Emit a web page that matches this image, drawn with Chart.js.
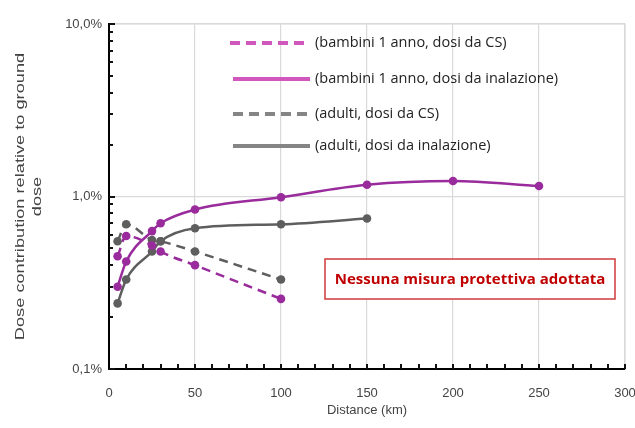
<!DOCTYPE html>
<html>
<head>
<meta charset="utf-8">
<script src="https://cdn.jsdelivr.net/npm/chart.js@4.4.0/dist/chart.umd.min.js"></script>
<style>
  html, body { margin: 0; padding: 0; background: #fff; }
  #wrap { width: 635px; height: 428px; }
</style>
</head>
<body>
<div id="wrap"><canvas id="chart" width="635" height="428"></canvas></div>
<script>
"use strict";

// distances (km)
const kmChildInh = [5, 10, 25, 30, 50, 100, 150, 200, 250];
const kmAdultInh = [5, 10, 25, 30, 50, 100, 150];
const kmCs = [5, 10, 25, 30, 50, 100];

// dose contribution (% of ground dose)
const childCs = [0.45, 0.59, 0.52, 0.48, 0.40, 0.255];
const childInh = [0.30, 0.42, 0.63, 0.70, 0.84, 0.99, 1.17, 1.23, 1.15];
const adultCs = [0.55, 0.69, 0.56, 0.55, 0.48, 0.33];
const adultInh = [0.24, 0.33, 0.48, 0.55, 0.655, 0.69, 0.745];

const seriesLabels = [
    '(bambini 1 anno, dosi da CS)',
    '(bambini 1 anno, dosi da inalazione)',
    '(adulti, dosi da CS)',
    '(adulti, dosi da inalazione)'
];
const yTitleLines = ['Dose contribution relative to ground', 'dose'];
const yTickValues = [0.1, 1, 10];
const xLabelStep = 50;
const xMinorStep = 10;

const purple = '#992b9c';
const grey = '#5e5e5e';
const legendColors = ['#d257bc', '#d257bc', '#858585', '#858585'];
const legendDashed = [true, false, true, false];

function points(xs, ys) {
    return xs.map((x, i) => ({ x: x, y: ys[i] }));
}

function makeSet(label, xs, ys, color, dashed) {
    return {
        label: label,
        data: points(xs, ys),
        borderColor: color,
        backgroundColor: color,
        borderWidth: 2.5,
        borderDash: dashed ? [9, 6] : [],
        pointRadius: 4.3,
        pointHoverRadius: 4.3,
        pointBorderWidth: 0,
        cubicInterpolationMode: 'monotone',
        fill: false
    };
}

// inward tick marks, y title, legend inside the plot and the red note box
const overlayPlugin = {
    id: 'overlay',
    afterDraw(chart) {
        const ctx = chart.ctx;
        const xs = chart.scales.x;
        const ys = chart.scales.y;
        const area = chart.chartArea;
        ctx.save();

        ctx.strokeStyle = '#111';
        ctx.lineWidth = 2;
        ctx.setLineDash([]);
        ctx.beginPath();
        for (let v = xMinorStep; v <= 300; v += xMinorStep) {
            const px = Math.round(xs.getPixelForValue(v));
            ctx.moveTo(px, area.bottom);
            ctx.lineTo(px, area.bottom - 5);
        }
        for (let dec = 0.1; dec < 10; dec *= 10) {
            for (let m = 1; m <= 10; m++) {
                const py = Math.round(ys.getPixelForValue(dec * m));
                ctx.moveTo(area.left, py);
                ctx.lineTo(area.left + (m === 1 || m === 10 ? 6 : 4), py);
            }
        }
        ctx.stroke();

        // y title, stretched along its baseline like the original
        ctx.fillStyle = '#444';
        ctx.font = '13px "Liberation Sans"';
        ctx.textAlign = 'center';
        ctx.textBaseline = 'middle';
        const midY = (area.top + area.bottom) / 2;
        [20, 37].forEach((cx, i) => {
            ctx.save();
            ctx.translate(cx, midY);
            ctx.rotate(-Math.PI / 2);
            ctx.scale(1.4, 1);
            ctx.fillText(yTitleLines[i], 0, 0);
            ctx.restore();
        });

        const rows = [43, 79, 114, 146];
        ctx.font = '14.5px "Open Sans"';
        seriesLabels.forEach((text, i) => {
            ctx.strokeStyle = legendColors[i];
            ctx.lineWidth = 4;
            ctx.setLineDash(legendDashed[i] ? [10, 6] : []);
            ctx.beginPath();
            ctx.moveTo(i === 0 ? 230 : 233, rows[i]);
            ctx.lineTo(310, rows[i]);
            ctx.stroke();
            ctx.setLineDash([]);
            ctx.fillStyle = '#222';
            ctx.textAlign = 'left';
            ctx.fillText(text, 315, rows[i]);
        });

        ctx.fillStyle = '#fff';
        ctx.fillRect(325, 259, 290, 40);
        ctx.strokeStyle = '#d03a3a';
        ctx.lineWidth = 1.5;
        ctx.strokeRect(325, 259, 290, 40);
        ctx.fillStyle = '#c00000';
        ctx.font = 'bold 15px "Open Sans"';
        ctx.textAlign = 'center';
        ctx.fillText('Nessuna misura protettiva adottata', 470, 280);
        ctx.restore();
    }
};

new Chart(document.querySelector('#chart').getContext('2d'), {
    type: 'line',
    data: {
        datasets: [
            makeSet(seriesLabels[0], kmCs, childCs, purple, true),
            makeSet(seriesLabels[1], kmChildInh, childInh, purple, false),
            makeSet(seriesLabels[2], kmCs, adultCs, grey, true),
            makeSet(seriesLabels[3], kmAdultInh, adultInh, grey, false)
        ]
    },
    options: {
        responsive: false,
        animation: false,
        devicePixelRatio: 1,
        layout: { padding: { top: 24, right: 10, left: 0, bottom: 0 } },
        plugins: {
            legend: { display: false },
            tooltip: { enabled: false }
        },
        scales: {
            x: {
                type: 'linear',
                min: 0,
                max: 300,
                ticks: {
                    stepSize: xLabelStep,
                    autoSkip: false,
                    maxRotation: 0,
                    color: '#444',
                    font: { family: 'Liberation Sans', size: 13 },
                    padding: 17
                },
                grid: {
                    color: c => (c.tick && c.tick.value !== 0 ? '#d9d9d9' : 'rgba(0,0,0,0)'),
                    drawTicks: false,
                    lineWidth: 1.2
                },
                border: { color: '#000', width: 2 },
                title: {
                    display: true,
                    text: 'Distance (km)',
                    color: '#444',
                    font: { family: 'Liberation Sans', size: 13 },
                    padding: { top: 0, bottom: 10 }
                },
                afterFit(scale) {
                    scale.height = 59;
                    scale.paddingRight = 0;
                }
            },
            y: {
                type: 'logarithmic',
                min: 0.1,
                max: 10,
                afterBuildTicks(scale) {
                    scale.ticks = yTickValues.map(v => ({ value: v }));
                },
                ticks: {
                    autoSkip: false,
                    color: '#444',
                    font: { family: 'Liberation Sans', size: 13 },
                    padding: 7,
                    callback: v => v.toFixed(1).replace('.', ',') + '%'
                },
                grid: {
                    color: c => (c.tick && c.tick.value > 0.1 ? '#d9d9d9' : 'rgba(0,0,0,0)'),
                    drawTicks: false,
                    lineWidth: 1.2
                },
                border: { color: '#000', width: 2 },
                title: { display: false },
                afterFit(scale) { scale.width = 109; }
            }
        }
    },
    plugins: [overlayPlugin, {
        id: 'frame',
        beforeDatasetsDraw(chart) {
            const a = chart.chartArea;
            const ctx = chart.ctx;
            ctx.save();
            ctx.strokeStyle = '#d9d9d9';
            ctx.lineWidth = 1.2;
            ctx.beginPath();
            ctx.moveTo(a.left, a.top);
            ctx.lineTo(a.right, a.top);
            ctx.lineTo(a.right, a.bottom);
            ctx.stroke();
            ctx.restore();
        }
    }]
});
</script>
</body>
</html>
